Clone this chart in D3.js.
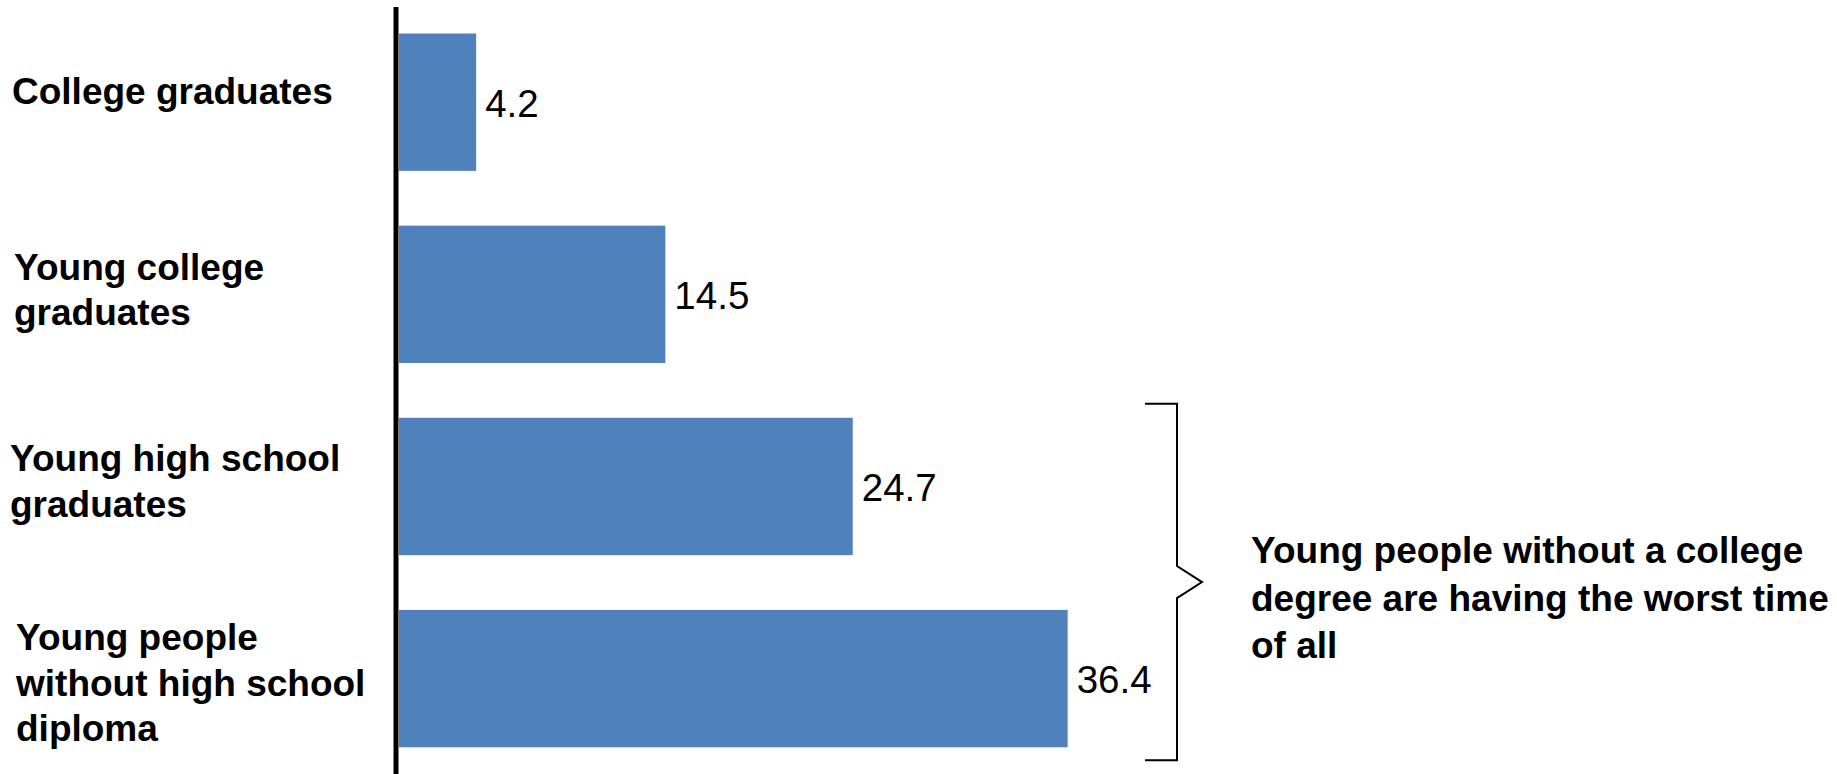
<!DOCTYPE html>
<html>
<head>
<meta charset="utf-8">
<script src="https://cdn.jsdelivr.net/npm/d3@7"></script>
<style>
  html, body { margin: 0; padding: 0; background: #fff; }
  svg { display: block; }
</style>
</head>
<body>
<svg id="chart" width="1837" height="774"></svg>
<script>
// ---- data ----
const categories = [
  "College graduates",
  "Young college graduates",
  "Young high school graduates",
  "Young people without high school diploma"
];
const categoryLines = [
  ["College graduates"],
  ["Young college", "graduates"],
  ["Young high school", "graduates"],
  ["Young people", "without high school", "diploma"]
];
const values = [4.2, 14.5, 24.7, 36.4];
const valueLabels = ["4.2", "14.5", "24.7", "36.4"];
const annotationLines = [
  "Young people without a college",
  "degree are having the worst time",
  "of all"
];
const bracketCategories = ["Young high school graduates", "Young people without high school diploma"];

// ---- layout ----
const W = 1837, H = 774;
const svg = d3.select("#chart");
const FONT = "'Liberation Sans', Arial, Helvetica, sans-serif";

const x = d3.scaleLinear().domain([0, 40]).range([399, 399 + 40 * 18.37]);
const y = d3.scaleBand().domain(categories).range([33.5, 747.3]).paddingInner(0.285).paddingOuter(0);

// bars
svg.append("g").selectAll("rect")
  .data(values)
  .join("rect")
  .attr("x", x(0))
  .attr("y", (d, i) => y(categories[i]))
  .attr("width", d => x(d) - x(0))
  .attr("height", y.bandwidth())
  .attr("fill", "#4F81BD");

// value labels
svg.append("g").selectAll("text")
  .data(values)
  .join("text")
  .attr("x", d => x(d) + 9)
  .attr("y", (d, i) => y(categories[i]) + y.bandwidth() / 2 + 1)
  .attr("dy", "0.36em")
  .attr("font-family", FONT)
  .attr("font-size", 38.5)
  .attr("fill", "#000")
  .text((d, i) => valueLabels[i]);

// vertical axis line
svg.append("line")
  .attr("x1", 396).attr("x2", 396)
  .attr("y1", 7).attr("y2", H)
  .attr("stroke", "#000").attr("stroke-width", 5);

// category labels (text boxes, slightly offset from bar centres as in the original)
const lineH = 45.5;
const labelShift = [-12, -5, -6, 4];
const labelX = [12, 14, 10, 16];
const lab = svg.append("g");
categories.forEach((c, i) => {
  const lines = categoryLines[i];
  const cy = y(c) + y.bandwidth() / 2 + labelShift[i];
  const t = lab.append("text")
    .attr("font-family", FONT)
    .attr("font-weight", "bold")
    .attr("font-size", 37)
    .attr("fill", "#000");
  lines.forEach((ln, j) => {
    t.append("tspan")
      .attr("x", labelX[i])
      .attr("y", cy + (j - (lines.length - 1) / 2) * lineH)
      .attr("dy", "0.36em")
      .text(ln);
  });
});

// bracket
const bTop = y(bracketCategories[0]) - 14;
const bBot = y(bracketCategories[1]) + y.bandwidth() + 13;
const bMid = (bTop + bBot) / 2;
const bx = 1177, bLeft = 1145, bTip = 1202;
const p = d3.path();
p.moveTo(bLeft, bTop);
p.lineTo(bx, bTop);
p.lineTo(bx, bMid - 16);
p.lineTo(bTip, bMid);
p.lineTo(bx, bMid + 16);
p.lineTo(bx, bBot);
p.lineTo(bLeft, bBot);
svg.append("path")
  .attr("d", p.toString())
  .attr("fill", "none")
  .attr("stroke", "#000")
  .attr("stroke-width", 2);

// annotation
const ann = svg.append("text")
  .attr("font-family", FONT)
  .attr("font-weight", "bold")
  .attr("font-size", 37)
  .attr("fill", "#000");
annotationLines.forEach((ln, j) => {
  ann.append("tspan")
    .attr("x", 1251)
    .attr("y", 597.5 + (j - 1) * 47.5)
    .attr("dy", "0.36em")
    .text(ln);
});
</script>
</body>
</html>
